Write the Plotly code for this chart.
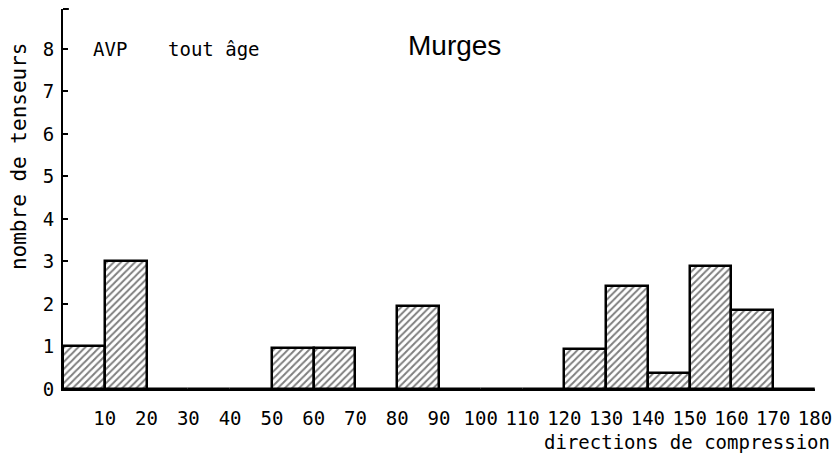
import plotly.graph_objects as go

# Compression directions, binned every 10 degrees (left edge of each bin)
bin_start = [0, 10, 20, 30, 40, 50, 60, 70, 80, 90, 100, 110, 120, 130, 140, 150, 160, 170]
bin_width = 10
# Number of stress tensors per bin
counts = [1.0, 3.0, 0, 0, 0, 0.97, 0.97, 0, 1.95, 0, 0, 0, 0.93, 2.43, 0.37, 2.9, 1.86, 0]

x_tick_vals = [10, 20, 30, 40, 50, 60, 70, 80, 90, 100, 110, 120, 130, 140, 150, 160, 170, 180]
x_tick_text = [str(v) for v in x_tick_vals]
y_tick_vals = [0, 1, 2, 3, 4, 5, 6, 7, 8]

mono = "DejaVu Sans Mono"

fig = go.Figure()
fig.add_trace(go.Bar(
    x=[s + bin_width / 2 for s in bin_start],
    y=counts,
    width=[bin_width] * len(bin_start),
    marker=dict(
        color="white",
        line=dict(color="black", width=2.5),
        pattern=dict(shape="/", fgcolor="black", bgcolor="white", size=5, solidity=0.4),
    ),
    hoverinfo="skip",
))

fig.update_layout(
    width=833, height=457,
    margin=dict(l=63, r=18, t=9, b=68, autoexpand=False),
    paper_bgcolor="white", plot_bgcolor="white",
    showlegend=False,
    bargap=0,
    xaxis=dict(
        range=[0, 180], showgrid=False, zeroline=False, automargin=False,
        showline=True, linecolor="black", linewidth=2,
        tickmode="array", tickvals=x_tick_vals, ticktext=x_tick_text,
        ticks="", ticklabelstandoff=11,
        tickfont=dict(family=mono, size=19, color="black"),
    ),
    yaxis=dict(
        range=[0, 8.94], showgrid=False, zeroline=False, automargin=False,
        showline=True, linecolor="black", linewidth=2,
        tickmode="array", tickvals=y_tick_vals,
        ticks="inside", ticklen=5, tickwidth=1.5, tickcolor="black",
        ticklabelstandoff=3,
        tickfont=dict(family=mono, size=19, color="black"),
    ),
    shapes=[
        # small bracket closing the top of the vertical axis
        dict(type="line", xref="x", yref="paper", x0=0, x1=1.4, y0=1, y1=1,
             line=dict(color="black", width=2)),
    ],
    annotations=[
        dict(text="nombre de tenseurs", textangle=-90, xref="paper", yref="paper",
             x=0, y=0.613, xanchor="center", yanchor="middle", xshift=-44, showarrow=False,
             font=dict(family=mono, size=21, color="black")),
        dict(text="directions de compression", xref="paper", yref="paper",
             x=1, y=0, xanchor="right", yanchor="top", xshift=17, yshift=-40, showarrow=False,
             font=dict(family=mono, size=19, color="black")),
        dict(text="AVP", xref="paper", yref="paper", x=0, y=1,
             xanchor="left", yanchor="top", xshift=28, yshift=-27, showarrow=False,
             font=dict(family=mono, size=19, color="black")),
        dict(text="tout âge", xref="paper", yref="paper", x=0, y=1,
             xanchor="left", yanchor="top", xshift=103, yshift=-27, showarrow=False,
             font=dict(family=mono, size=19, color="black")),
        dict(text="Murges", xref="paper", yref="paper", x=0, y=1,
             xanchor="left", yanchor="top", xshift=343, yshift=-19, showarrow=False,
             font=dict(family="Liberation Sans", size=28, color="black")),
    ],
)

fig.write_html("out.html")
